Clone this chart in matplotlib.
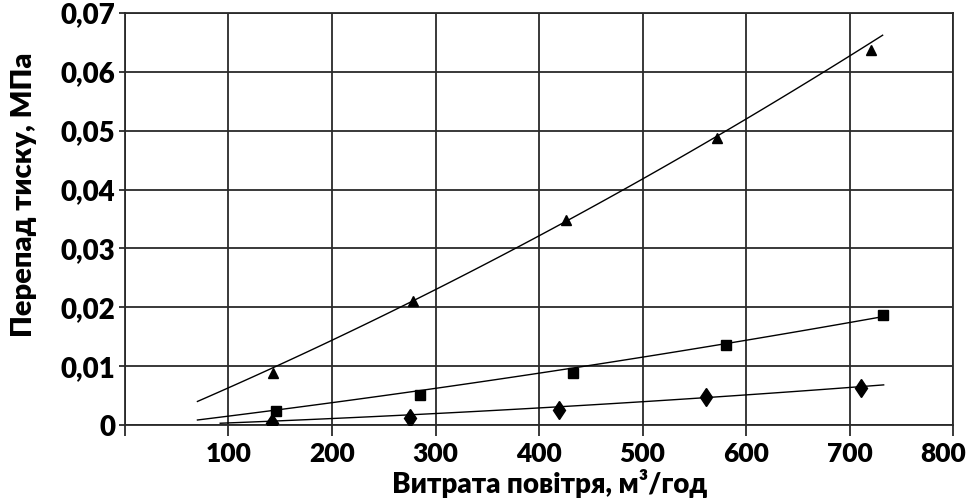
import numpy as np
import matplotlib.pyplot as plt
import matplotlib.transforms as mtransforms

plt.rcParams['font.family'] = ['Lato', 'DejaVu Sans']
plt.rcParams['font.weight'] = 'heavy'

# measured points (air flow m3/h, pressure drop MPa)
tri_x = [143, 278, 426, 572, 721]
tri_y = [0.0088, 0.0210, 0.0348, 0.0487, 0.0637]
sq_x = [146, 285, 433, 581, 732]
sq_y = [0.0023, 0.0051, 0.0089, 0.0136, 0.0187]
dia_x = [142, 275, 419, 561, 711]
dia_y = [0.0003, 0.0012, 0.0025, 0.0047, 0.0063]

# quadratic trend lines: c0 + c1*x + c2*x^2, and their x range
tri_trend = [-0.00123, 7.29e-5, 2.63e-8]
tri_range = [70, 732]
sq_trend = [-0.000635, 2.07e-5, 7.25e-9]
sq_range = [70, 733]
dia_trend = [-0.000287, 5.9e-6, 5.17e-9]
dia_range = [92, 733]

x_ticks = [0, 100, 200, 300, 400, 500, 600, 700, 800]
x_labels = ['', '100', '200', '300', '400', '500', '600', '700', '800']
y_ticks = [0, 0.01, 0.02, 0.03, 0.04, 0.05, 0.06, 0.07]
y_labels = ['0', '0,01', '0,02', '0,03', '0,04', '0,05', '0,06', '0,07']

fig = plt.figure(figsize=(9.75, 5.03), dpi=100)
ax = fig.add_axes([125/975, 1-425/503, (953-125)/975, (425-13)/503])

gc = '#2a2a2a'
ax.grid(True, color=gc, linewidth=1.3)
ax.set_axisbelow(True)
for s in ax.spines.values():
    s.set_color(gc)
    s.set_linewidth(1.3)

for coef, rng in [(tri_trend, tri_range), (sq_trend, sq_range), (dia_trend, dia_range)]:
    xs = np.linspace(rng[0], rng[1], 100)
    ys = coef[0] + coef[1]*xs + coef[2]*xs**2
    ax.plot(xs, ys, color='black', linewidth=1.0, zorder=3)

ax.plot(tri_x, tri_y, linestyle='none', marker='^', ms=7, color='black', zorder=4)
ax.plot(sq_x, sq_y, linestyle='none', marker='s', ms=7.5, color='black', zorder=4)
ax.plot(dia_x, dia_y, linestyle='none', marker='d', ms=9.5, color='black', zorder=4)

ax.set_xlim(0, 800)
ax.set_ylim(0, 0.07)
ax.set_xticks(x_ticks)
ax.set_xticklabels(x_labels)
ax.set_yticks(y_ticks)
ax.set_yticklabels(y_labels)
ax.tick_params(axis='x', length=8, width=1.3, color=gc, labelsize=19, pad=4)
ax.tick_params(axis='y', length=4, width=1.3, color=gc, labelsize=20, pad=3)

# last label sits a little left of its tick so it stays inside the figure
last = ax.get_xticklabels()[-1]
last.set_transform(last.get_transform() + mtransforms.ScaledTranslation(-10/100, 0, fig.dpi_scale_trans))

fig.text(550/975, 1-484/503, 'Витрата повітря, м³/год', ha='center', va='center',
         fontsize=20, fontweight='heavy')
fig.text(24/975, 1-195/503, 'Перепад тиску, МПа', ha='center', va='center',
         rotation=90, fontsize=21, fontweight='heavy')

fig.savefig('out.png', dpi=100)
